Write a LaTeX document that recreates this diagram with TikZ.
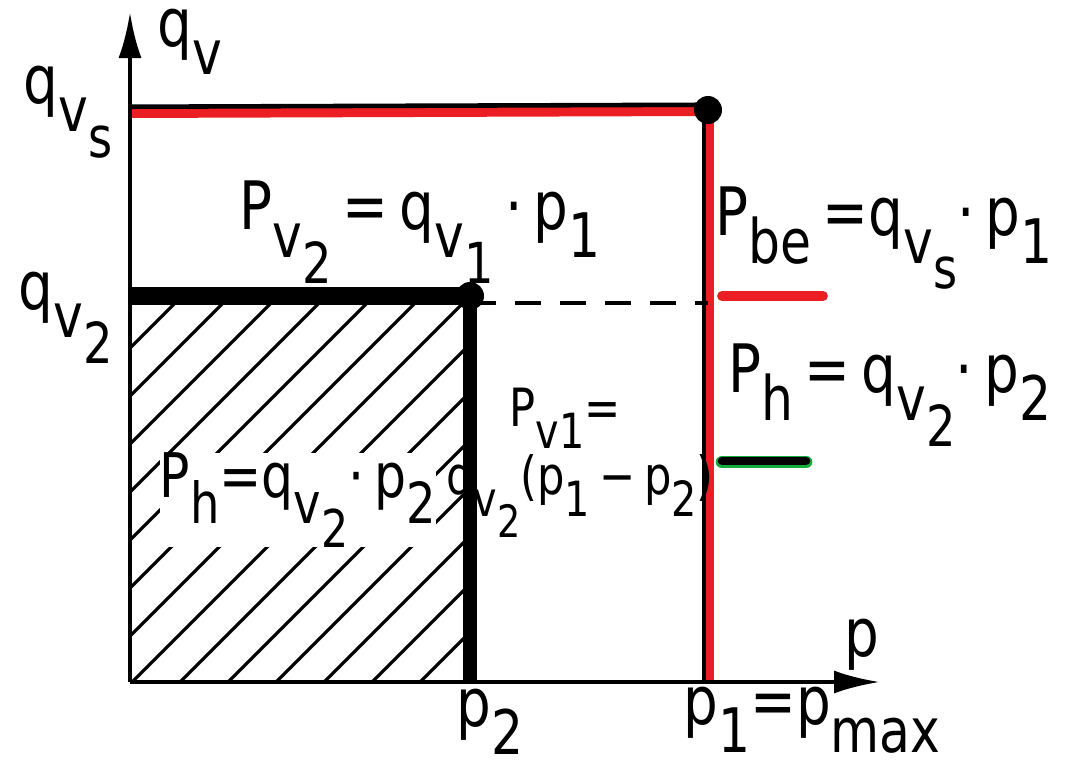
\documentclass[tikz,border=0pt]{standalone}
\usepackage{fontspec}
\setmainfont{DejaVu Sans}[FakeStretch=0.82]
\usepackage{graphicx}
\usepackage{tikz}
\usetikzlibrary{arrows.meta, positioning}

\definecolor{markred}{RGB}{235,30,35}
\definecolor{markgreen}{RGB}{20,170,60}
\newcommand{\lo}[1]{\raisebox{-0.42em}{\scalebox{0.92}{#1}}}

\begin{document}
\begin{tikzpicture}[
            x=0.1mm, y=-0.1mm,
            lbl/.style   ={inner sep=1pt, font=\fontsize{19}{22}\selectfont},
            small/.style ={inner sep=1pt, font=\fontsize{15}{18}\selectfont},
            axis/.style  ={line width=1.2pt, -{Latex[length=4.6mm, width=2.3mm]}},
            redline/.style   ={draw=markred, line width=3.4pt},
            blackline/.style ={draw=black, line width=5pt},
            corner/.style={circle, fill=black, inner sep=0pt, minimum size=2.8mm},
            hatch/.style ={line width=0.9pt},
            under/.style ={line width=2.8pt, line cap=round}
        ]
        \useasboundingbox (0,0) rectangle (1071,781);

        % axes
        \coordinate (O)    at (130,682);
        \coordinate (ytip) at (130,12);
        \coordinate (xtip) at (880,682);
        \coordinate (p2)   at (470,682);
        \coordinate (p1)   at (708,682);
        \coordinate (qs)   at (130,112);
        \coordinate (q2)   at (130,296);
        \coordinate (A)    at (708,110);
        \coordinate (B)    at (470,296);

        % hatched area
        \begin{scope}
            \clip (130,300) rectangle (466,682);
            \foreach \k in {0,...,15}
                \draw[hatch] (\k*48-300,682) -- ++(450,-450);
        \end{scope}

        \draw[redline] (qs) -- (A);
        \draw[black, line width=1.3pt] ([yshift=1.5pt]qs) -- ([yshift=1.5pt]A);
        \draw[redline] (A) -- (p1);
        \draw[black, line width=1pt] ([xshift=-1.2pt]A) -- ([xshift=-1.2pt]p1);
        \draw[blackline] (q2) -- (B);
        \draw[black, line width=4pt] (B) -- (p2);
        \draw[line width=1.2pt, dash pattern=on 2.6mm off 1.9mm] ([yshift=-2pt]B) -- ([yshift=-2pt]A |- B);

        \node[corner] (cA) at (A) {};
        \node[corner] (cB) at (B) {};

        \draw[axis] (O) -- (ytip);
        \draw[axis] (O) -- (xtip);

        % labels
        \node[lbl, fill=white, inner sep=0pt, font=\fontsize{17.5}{20}\selectfont] (Phin) at (298,500) {P\lo{h}=q\lo{v\lo{2}}·\,p\lo{2}};
        \node[lbl] (lqv)  at (190,42)  {q\lo{v}};
        \node[lbl] (lqvs) at (68,112)  {q\lo{v\lo{s}}};
        \node[lbl] (lqv2) at (66,318)  {q\lo{v\lo{2}}};
        \node[lbl] (Pv2)  at (420,232) {P\lo{v\lo{2}}\,=\,q\lo{v\lo{1}}\,·\,p\lo{1}};
        \node[lbl] (Pbe)  at (884,238) {P\lo{be}\,=q\lo{v\lo{s}}·\,p\lo{1}};
        \node[lbl] (Ph)   at (890,395) {P\lo{h}\,=\,q\lo{v\lo{2}}·\,p\lo{2}};
        \node[small] (Pv1)  at (565,418) {P\lo{v1}=};
        \node[small] (Pv1b) at (580,496) {q\lo{v\lo{2}}(p\lo{1}\,−\,p\lo{2})};
        \node[lbl] (lp2)  at (490,722) {p\lo{2}};
        \node[lbl] (lp1)  at (812,720) {p\lo{1}=p\lo{max}};
        \node[lbl] (lp)   at (862,645) {p};

        % colour marks
        \draw[under, markred] (722,296) -- (823,296);
        \draw[under, markgreen, line width=3.6pt] (722,462) -- (806,462);
        \draw[under, black, line width=2.4pt] (722,461) -- (806,461);
        \end{tikzpicture}
\end{document}
